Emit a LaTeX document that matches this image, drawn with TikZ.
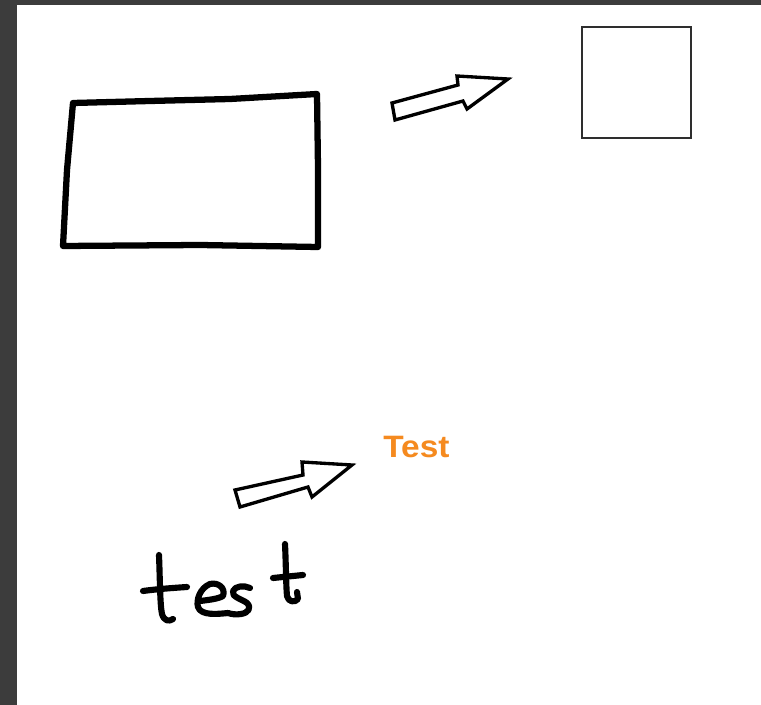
\documentclass[tikz,border=0pt]{standalone}
\usepackage{fontspec}
\setmainfont{Liberation Sans}
\newfontfamily\testfont[FakeStretch=1.08]{Liberation Sans}
\definecolor{frame}{HTML}{3C3C3C}
\definecolor{testorange}{HTML}{F58A1F}
\definecolor{sqgray}{HTML}{2E2E2E}
\begin{document}
\begin{tikzpicture}[x=0.75pt,y=-0.75pt,
  ink/.style={line width=4.7pt,line cap=round,line join=round},
  blockarrow/.style={line width=2.5pt,line join=miter,fill=white},
  thin box/.style={draw=sqgray,line width=1.2pt},
  pen/.style={line width=4.6pt,line cap=round,line join=round}]
\fill[frame] (0,0) rectangle (761,705);
\fill[white] (17,5) rectangle (761,705);
\useasboundingbox (0,0) rectangle (761,705);
% hand-drawn rectangle
\draw[ink] (73,103) -- (150,101) -- (230,99) -- (317,94) -- (318,168) -- (318,247)
  -- (200,245) -- (63,246) -- (67,170) -- cycle;
% square
\draw[thin box] (582,27) rectangle (691,138);
% arrow 1
\draw[blockarrow] (392,103) -- (458,85) -- (457,76) -- (508,79) -- (467,109) -- (463,101) -- (395,120) -- cycle;
% arrow 2
\draw[blockarrow] (235,490) -- (303,475) -- (302,462) -- (352,465) -- (312,497) -- (308,487) -- (240,507) -- cycle;
% orange text
\node[anchor=base west,inner sep=0pt,text=testorange,font=\testfont\fontsize{23.2}{27}\selectfont\bfseries] (testlabel) at (383,458) {Test};
% handwritten "test"
\draw[pen] (159,555) .. controls (160,580) and (160,605) .. (162,614) .. controls (164,621) and (169,622) .. (173,619);
\draw[pen] (143,591) .. controls (158,589) and (172,588) .. (187,587);
\draw[pen] (200,601) .. controls (208,600) and (218,599) .. (223,596) .. controls (226,588) and (218,582) .. (210,584)
  .. controls (200,588) and (196,600) .. (198,607) .. controls (201,616) and (218,614) .. (228,613);
\draw[pen] (250,588) .. controls (244,585) and (235,586) .. (233,591) .. controls (231,597) and (242,599) .. (247,603)
  .. controls (252,608) and (248,613) .. (241,614) .. controls (236,615) and (231,614) .. (228,613);
\draw[pen] (285,544) .. controls (286,565) and (286,585) .. (287,596) .. controls (288,602) and (295,603) .. (298,599)
  -- (297,592);
\draw[pen] (273,578) .. controls (283,577) and (293,576) .. (303,575);
\end{tikzpicture}
\end{document}
